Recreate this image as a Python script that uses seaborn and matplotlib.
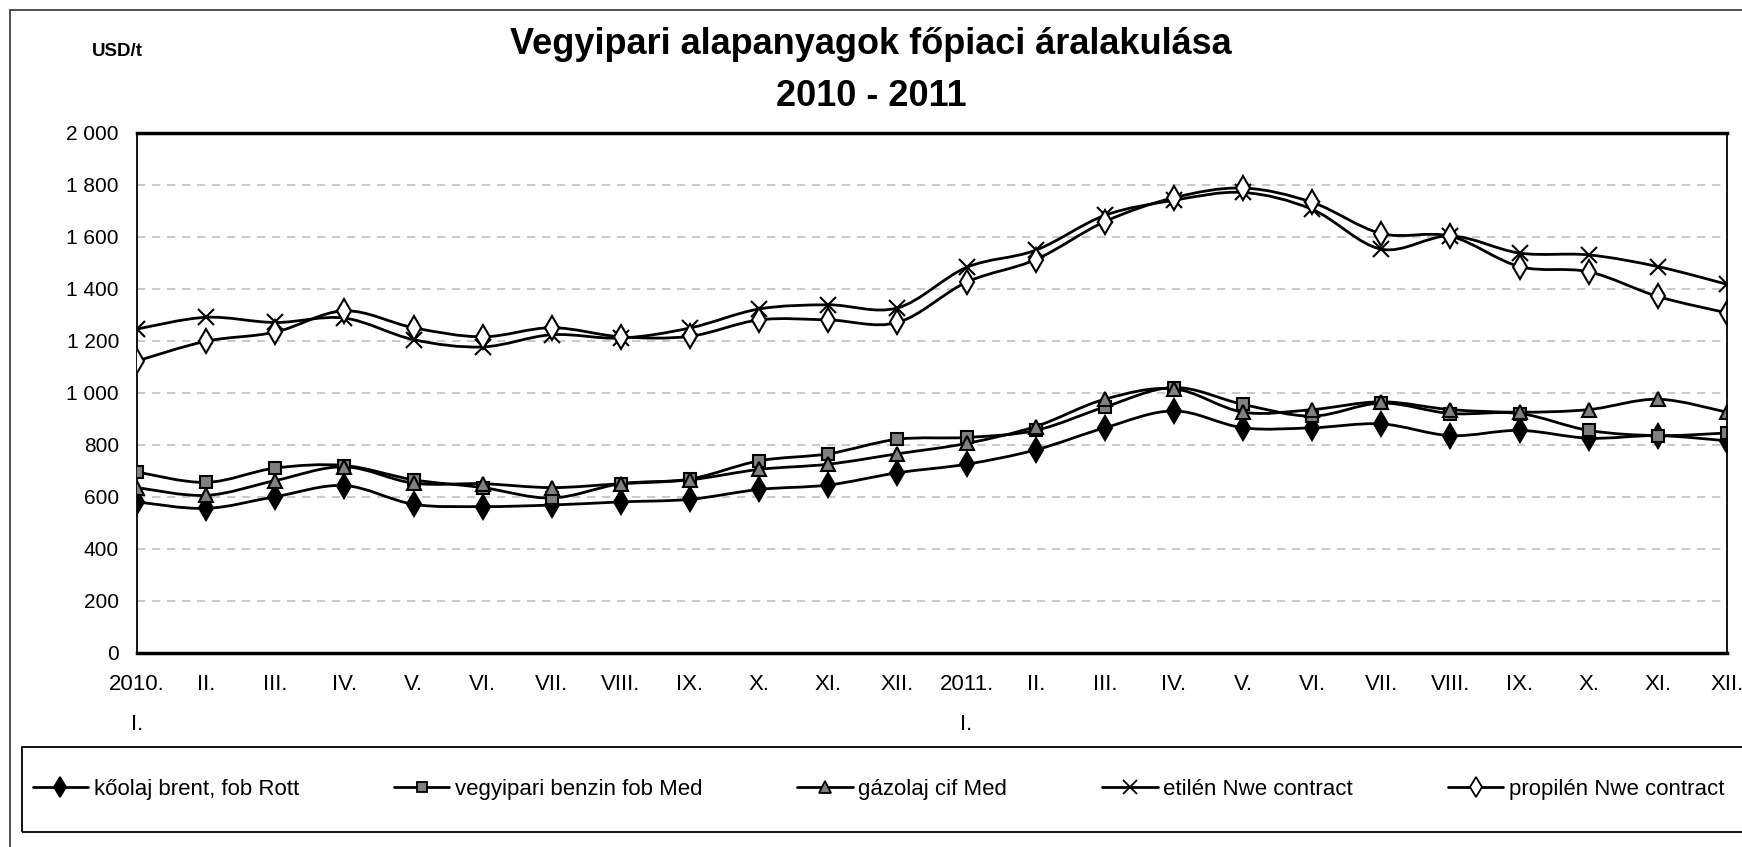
import matplotlib.pyplot as plt
import seaborn as sns
import pandas as pd
from matplotlib.path import Path
from matplotlib.patches import PathPatch, Rectangle
from matplotlib.lines import Line2D

months = ['2010.\nI.', 'II.', 'III.', 'IV.', 'V.', 'VI.', 'VII.', 'VIII.', 'IX.', 'X.', 'XI.', 'XII.',
          '2011.\nI.', 'II.', 'III.', 'IV.', 'V.', 'VI.', 'VII.', 'VIII.', 'IX.', 'X.', 'XI.', 'XII.']

brent = [580, 555, 600, 643, 571, 562, 568, 580, 590, 628, 645, 692,
         725, 780, 865, 930, 865, 865, 880, 835, 855, 825, 835, 815]
benzin = [695, 655, 710, 720, 665, 635, 595, 650, 668, 738, 765, 821,
          828, 855, 945, 1020, 955, 910, 960, 920, 920, 855, 835, 845]
gazolaj = [635, 605, 662, 715, 652, 650, 635, 650, 665, 705, 725, 765,
           805, 870, 975, 1015, 925, 935, 965, 935, 925, 935, 975, 925]
etilen = [1245, 1290, 1270, 1287, 1204, 1176, 1223, 1210, 1249, 1322, 1338, 1326,
          1482, 1548, 1682, 1740, 1770, 1705, 1552, 1603, 1537, 1530, 1485, 1417]
propilen = [1122, 1198, 1233, 1315, 1250, 1215, 1250, 1215, 1217, 1280, 1280, 1270,
            1425, 1512, 1658, 1750, 1787, 1732, 1612, 1602, 1485, 1465, 1370, 1307]

series_names = ['kőolaj brent, fob Rott', 'vegyipari benzin fob Med', 'gázolaj cif Med',
                'etilén Nwe contract', 'propilén Nwe contract']
series_values = [brent, benzin, gazolaj, etilen, propilen]

# marker, face colour, size on the chart, size in the legend
styles = {
    'kőolaj brent, fob Rott': ('d', 'black', 12, 10.5),
    'vegyipari benzin fob Med': ('s', '#808080', 9, 7.5),
    'gázolaj cif Med': ('^', '#808080', 10, 8.5),
    'etilén Nwe contract': ('x', 'black', 11, 9.5),
    'propilén Nwe contract': ('d', 'white', 12, 10.5),
}

sns.set_style('white')
plt.rcParams['font.family'] = ['Liberation Sans', 'DejaVu Sans']
plt.rcParams['text.color'] = 'black'

df = pd.DataFrame({'month': list(range(len(months))) * len(series_names),
                   'value': sum(series_values, []),
                   'series': [n for n in series_names for _ in months]})

fig = plt.figure(figsize=(17.42, 8.47), dpi=100)
ax = fig.add_axes([137 / 1742, 1 - 652.7 / 847, (1727 - 137) / 1742, 520 / 847])


def smooth_path(xs, ys):
    # excel-like smoothed line: cubic bezier through the points
    pts = list(zip(xs, ys))
    verts = [pts[0]]
    codes = [Path.MOVETO]
    n = len(pts)
    for i in range(n - 1):
        p0 = pts[i - 1] if i > 0 else pts[i]
        p1 = pts[i]
        p2 = pts[i + 1]
        p3 = pts[i + 2] if i + 2 < n else pts[i + 1]
        c1 = (p1[0] + (p2[0] - p0[0]) / 6, p1[1] + (p2[1] - p0[1]) / 6)
        c2 = (p2[0] - (p3[0] - p1[0]) / 6, p2[1] - (p3[1] - p1[1]) / 6)
        verts += [c1, c2, p2]
        codes += [Path.CURVE4] * 3
    return Path(verts, codes)


handles = []
for name in series_names:
    sub = df[df['series'] == name]
    ax.add_patch(PathPatch(smooth_path(sub['month'].tolist(), sub['value'].tolist()),
                           fill=False, edgecolor='black', lw=2, zorder=3))
    mk, fc, ms, lms = styles[name]
    sns.lineplot(data=sub, x='month', y='value', ax=ax, lw=0, marker=mk,
                 markersize=ms, markerfacecolor=fc, markeredgecolor='black',
                 markeredgewidth=1.5, color='black', zorder=4)
    handles.append(Line2D([], [], color='black', lw=2, marker=mk, markersize=lms,
                          markerfacecolor=fc, markeredgecolor='black',
                          markeredgewidth=1.3, label=name))

ax.set_xlim(0, len(months) - 1)
ax.set_ylim(0, 2000)
ax.set_xticks(range(len(months)))
ax.set_xticklabels(months, fontsize=16, linespacing=2.2, va='top')
yt = list(range(0, 2001, 200))
ax.set_yticks(yt)
ax.set_yticklabels([f'{v:,}'.replace(',', ' ') for v in yt], fontsize=15)
ax.set_xlabel('')
ax.set_ylabel('')
ax.tick_params(axis='both', direction='out', length=7, width=1.2, colors='black', pad=6)
ax.tick_params(axis='x', pad=8)
ax.yaxis.grid(True, color='#c0c0c0', linestyle=(0, (5, 4)), lw=1.2)
ax.xaxis.grid(False)
for side in ['top', 'bottom']:
    ax.spines[side].set_linewidth(2.5)
    ax.spines[side].set_color('black')
for side in ['left', 'right']:
    ax.spines[side].set_linewidth(1.3)
    ax.spines[side].set_color('black')
ax.spines['right'].set_zorder(5)

fig.text(0.5, 1 - 45 / 847, 'Vegyipari alapanyagok főpiaci áralakulása', ha='center', va='center',
         fontsize=26, fontweight='bold', color='black')
fig.text(0.5, 1 - 97 / 847, '2010 - 2011', ha='center', va='center', fontsize=26,
         fontweight='bold', color='black')
fig.text(117 / 1742, 1 - 52 / 847, 'USD/t', ha='center', va='center', fontsize=13.5,
         fontweight='bold', color='black')

fig.legend(handles=handles, ncol=5, loc='center', mode='expand',
           bbox_to_anchor=(26 / 1742, 1 - 832 / 847, 1705 / 1742, 85 / 847),
           bbox_transform=fig.transFigure, frameon=False, fontsize=16, handlelength=2.5,
           handletextpad=0.25, borderpad=0.3, borderaxespad=0, labelcolor='black')

# legend frame runs past the right edge like in the original
fig.patches.append(Rectangle((22 / 1742, 1 - 832 / 847), 1.1, 85 / 847, transform=fig.transFigure,
                             fill=False, edgecolor='black', lw=1.3, zorder=1))
fig.patches.append(Rectangle((10 / 1742, -0.1), 1.1, 1.1 - 10 / 847, transform=fig.transFigure,
                             fill=False, edgecolor='#404040', lw=1.3, zorder=0))

fig.savefig('out.png', dpi=100)
